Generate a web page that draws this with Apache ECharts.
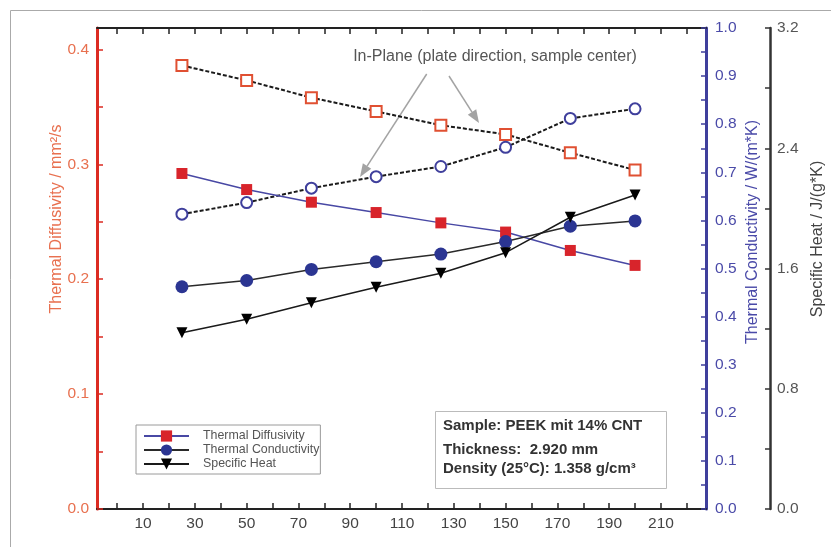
<!DOCTYPE html>
<html>
<head>
<meta charset="utf-8">
<script src="https://cdn.jsdelivr.net/npm/echarts@6/dist/echarts.min.js"></script>
<style>
  html, body { margin: 0; padding: 0; background: #fff; }
  #chart { width: 831px; height: 547px; }
</style>
</head>
<body>
<div id="chart"></div>
<script>
// temperatures (°C)
const temps = [25, 50, 75, 100, 125, 150, 175, 200];
// through-plane values
const diffusivity = [0.292, 0.278, 0.267, 0.258, 0.249, 0.241, 0.225, 0.212];
const conductivity = [0.462, 0.475, 0.498, 0.514, 0.530, 0.556, 0.588, 0.599];
const specificHeat = [1.173, 1.262, 1.372, 1.475, 1.568, 1.705, 1.941, 2.089];
// in-plane values (plate direction, sample center)
const diffusivityInPlane = [0.386, 0.373, 0.358, 0.346, 0.334, 0.326, 0.310, 0.295];
const conductivityInPlane = [0.613, 0.637, 0.667, 0.691, 0.712, 0.752, 0.812, 0.832];

// axis ticks and labels
const xTicks = [0, 10, 20, 30, 40, 50, 60, 70, 80, 90, 100, 110, 120, 130, 140, 150, 160, 170, 180, 190, 200, 210, 220];
const xLabels = [10, 30, 50, 70, 90, 110, 130, 150, 170, 190, 210];
const diffTicks = [0, 0.05, 0.1, 0.15, 0.2, 0.25, 0.3, 0.35, 0.4];
const diffLabels = [0, 0.1, 0.2, 0.3, 0.4];
const condTicks = [0, 0.05, 0.1, 0.15, 0.2, 0.25, 0.3, 0.35, 0.4, 0.45, 0.5, 0.55, 0.6, 0.65, 0.7, 0.75, 0.8, 0.85, 0.9, 0.95, 1.0];
const condLabels = [0, 0.1, 0.2, 0.3, 0.4, 0.5, 0.6, 0.7, 0.8, 0.9, 1.0];
const heatTicks = [0, 0.4, 0.8, 1.2, 1.6, 2.0, 2.4, 2.8, 3.2];
const heatLabels = [0, 0.8, 1.6, 2.4, 3.2];

const FONT = 'Liberation Sans, Arial, sans-serif';
const RED = '#dc2b22';
const RED_TXT = '#e8704f';
const BLUE = '#3f3f9c';
const BLUE_TXT = '#4a4aa8';

function pairs(ys) {
  return temps.map((t, i) => [t, ys[i]]);
}

// simple arrow made of a line and a head
function arrow(x1, y1, x2, y2) {
  const dx = x2 - x1, dy = y2 - y1;
  const len = Math.sqrt(dx * dx + dy * dy);
  const ux = dx / len, uy = dy / len;
  const hl = 13, hw = 5;
  const bx = x2 - ux * hl, by = y2 - uy * hl;
  return [
    { type: 'line', shape: { x1: x1, y1: y1, x2: bx, y2: by }, style: { stroke: '#a3a3a3', lineWidth: 1.5 } },
    { type: 'polygon', shape: { points: [[x2, y2], [bx - uy * hw, by + ux * hw], [bx + uy * hw, by - ux * hw]] },
      style: { fill: '#a3a3a3' } }
  ];
}

let chart = echarts.init(document.getElementById('chart'));

chart.setOption({
  backgroundColor: '#fff',
  animation: false,
  textStyle: { fontFamily: FONT },
  grid: { left: 97, right: 125, top: 28, bottom: 38, containLabel: false, outerBoundsMode: 'none' },
  legend: {
    data: ['Thermal Diffusivity', 'Thermal Conductivity', 'Specific Heat'],
    orient: 'vertical',
    left: 136,
    top: 425,
    itemWidth: 45,
    itemHeight: 14,
    itemGap: 2,
    padding: [5, 1, 4, 7],
    backgroundColor: '#fff',
    borderColor: '#9a9a9a',
    borderWidth: 1,
    textStyle: { color: '#555', fontSize: 12.4, padding: [0, 0, 0, 9] }
  },
  xAxis: [
    {
      type: 'value', position: 'bottom', min: -7.8, max: 227.4,
      axisLine: { onZero: false, lineStyle: { color: '#222', width: 2 } },
      axisTick: { inside: true, length: 6, customValues: xTicks, lineStyle: { color: '#222', width: 1.5 } },
      axisLabel: { customValues: xLabels, margin: 7, color: '#444', fontSize: 15.5 },
      splitLine: { show: false }
    },
    {
      type: 'value', position: 'top', min: -7.8, max: 227.4,
      axisLine: { onZero: false, lineStyle: { color: '#222', width: 2 } },
      axisTick: { inside: true, length: 6, customValues: xTicks, lineStyle: { color: '#222', width: 1.5 } },
      axisLabel: { show: false },
      splitLine: { show: false }
    }
  ],
  yAxis: [
    {
      type: 'value', position: 'left', min: 0, max: 0.4186,
      axisLine: { show: true, onZero: false, lineStyle: { color: RED, width: 3 } },
      axisTick: { show: true, inside: true, length: 6, customValues: diffTicks, lineStyle: { color: RED, width: 1.5 } },
      axisLabel: { customValues: diffLabels, margin: 8, color: RED_TXT, fontSize: 15.5, formatter: v => v.toFixed(1) },
      splitLine: { show: false }
    },
    {
      type: 'value', position: 'right', min: 0, max: 1.0,
      axisLine: { show: true, onZero: false, lineStyle: { color: BLUE, width: 3 } },
      axisTick: { show: true, inside: true, length: 5, customValues: condTicks, lineStyle: { color: BLUE, width: 1.5 } },
      axisLabel: { customValues: condLabels, margin: 9, color: BLUE_TXT, fontSize: 15.5, formatter: v => v.toFixed(1) },
      splitLine: { show: false }
    },
    {
      type: 'value', position: 'right', offset: 64, min: 0, max: 3.2,
      axisLine: { show: true, onZero: false, lineStyle: { color: '#333', width: 2.5 } },
      axisTick: { show: true, inside: true, length: 5, customValues: heatTicks, lineStyle: { color: '#333', width: 1.5 } },
      axisLabel: { customValues: heatLabels, margin: 7, color: '#555', fontSize: 15.5, formatter: v => v.toFixed(1) },
      splitLine: { show: false }
    }
  ],
  series: [
    {
      name: 'In-Plane Diffusivity', type: 'line', xAxisIndex: 0, yAxisIndex: 0,
      data: pairs(diffusivityInPlane),
      symbol: 'rect', symbolSize: 11,
      lineStyle: { color: '#1a1a1a', width: 2, type: [4, 2] },
      itemStyle: { color: '#fff', borderColor: '#e05032', borderWidth: 2 },
      z: 3
    },
    {
      name: 'In-Plane Conductivity', type: 'line', xAxisIndex: 0, yAxisIndex: 1,
      data: pairs(conductivityInPlane),
      symbol: 'circle', symbolSize: 11,
      lineStyle: { color: '#1a1a1a', width: 2, type: [4, 2] },
      itemStyle: { color: '#fff', borderColor: BLUE, borderWidth: 2 },
      z: 3
    },
    {
      name: 'Thermal Diffusivity', type: 'line', xAxisIndex: 0, yAxisIndex: 0,
      data: pairs(diffusivity),
      symbol: 'rect', symbolSize: 11,
      lineStyle: { color: '#4848a4', width: 1.5 },
      itemStyle: { color: '#d8242b' },
      z: 4
    },
    {
      name: 'Thermal Conductivity', type: 'line', xAxisIndex: 0, yAxisIndex: 1,
      data: pairs(conductivity),
      symbol: 'circle', symbolSize: 13,
      lineStyle: { color: '#2a2a2a', width: 1.5 },
      itemStyle: { color: '#2b3592' },
      z: 4
    },
    {
      name: 'Specific Heat', type: 'line', xAxisIndex: 0, yAxisIndex: 2,
      data: pairs(specificHeat),
      symbol: 'triangle', symbolSize: 11, symbolRotate: 180,
      lineStyle: { color: '#1a1a1a', width: 1.5 },
      itemStyle: { color: '#000' },
      z: 5
    }
  ],
  graphic: [
    { type: 'rect', shape: { x: 10.5, y: 10.5, width: 840, height: 560 }, style: { fill: null, stroke: '#aaa', lineWidth: 1 }, z: 0 },
    // axis titles
    { type: 'text', x: 57, y: 219, rotation: Math.PI / 2,
      style: { text: 'Thermal Diffusivity / mm²/s', fill: RED_TXT, font: '16px ' + FONT, align: 'center', verticalAlign: 'middle' } },
    { type: 'text', x: 753, y: 232, rotation: Math.PI / 2,
      style: { text: 'Thermal Conductivity / W/(m*K)', fill: BLUE_TXT, font: '16px ' + FONT, align: 'center', verticalAlign: 'middle' } },
    { type: 'text', x: 818, y: 239, rotation: Math.PI / 2,
      style: { text: 'Specific Heat / J/(g*K)', fill: '#444', font: '16px ' + FONT, align: 'center', verticalAlign: 'middle' } },
    // in-plane annotation
    { type: 'text', x: 495, y: 57,
      style: { text: 'In-Plane (plate direction, sample center)', fill: '#555', font: '16px ' + FONT, align: 'center', verticalAlign: 'middle' } },
    ...arrow(426.7, 74, 360, 177),
    ...arrow(449, 76, 479, 123),
    // sample box
    { type: 'rect', shape: { x: 435.5, y: 411.5, width: 231, height: 77 }, style: { fill: '#fff', stroke: '#bbb', lineWidth: 1 }, z: 10 },
    { type: 'text', x: 443, y: 426, z: 11,
      style: { text: 'Sample: PEEK mit 14% CNT', fill: '#333', font: 'bold 15px ' + FONT, verticalAlign: 'middle' } },
    { type: 'text', x: 443, y: 450, z: 11,
      style: { text: 'Thickness:  2.920 mm', fill: '#333', font: 'bold 15px ' + FONT, verticalAlign: 'middle' } },
    { type: 'text', x: 443, y: 469, z: 11,
      style: { text: 'Density (25°C): 1.358 g/cm³', fill: '#333', font: 'bold 15px ' + FONT, verticalAlign: 'middle' } }
  ]
});
</script>
</body>
</html>
